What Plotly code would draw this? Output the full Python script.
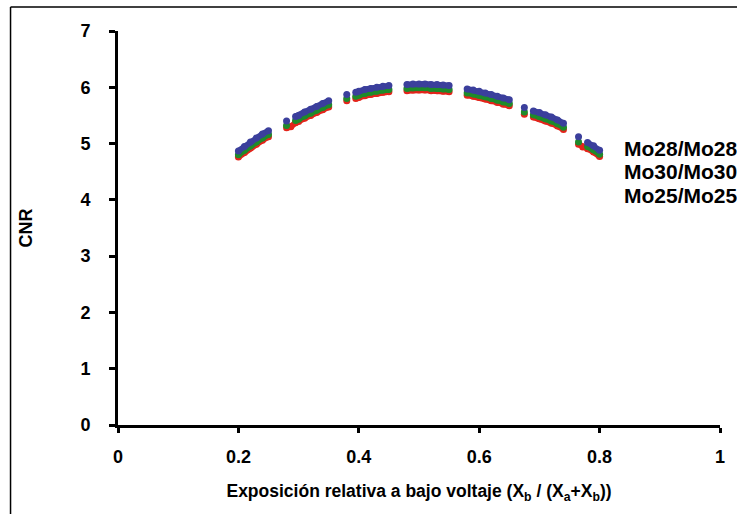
import plotly.graph_objects as go

# x positions (relative exposure at low voltage); None separates the visible runs of points
x_vals = [0.20, 0.21, 0.22, 0.23, 0.24, 0.25, None,
          0.28, None, 0.295, 0.30, 0.31, 0.32, 0.33, 0.34, 0.35, None,
          0.38, None, 0.395, 0.40, 0.41, 0.42, 0.43, 0.44, 0.45, None,
          0.48, 0.49, 0.50, 0.51, 0.52, 0.53, 0.54, 0.55, None,
          0.58, 0.59, 0.60, 0.61, 0.62, 0.63, 0.64, 0.65, None,
          0.675, None, 0.69, 0.70, 0.71, 0.72, 0.73, 0.74, None,
          0.765, None, 0.78, 0.79, 0.80]

cnr_mo28 = [4.87, 4.95, 5.03, 5.10, 5.17, 5.23, None,
            5.40, None, 5.48, 5.50, 5.56, 5.61, 5.66, 5.71, 5.76, None,
            5.87, None, 5.91, 5.93, 5.96, 5.98, 6.00, 6.02, 6.03, None,
            6.05, 6.06, 6.06, 6.06, 6.05, 6.05, 6.04, 6.03, None,
            5.97, 5.95, 5.93, 5.90, 5.87, 5.84, 5.81, 5.78, None,
            5.64, None, 5.58, 5.55, 5.51, 5.47, 5.42, 5.36, None,
            5.12, None, 5.02, 4.96, 4.88]

cnr_mo30 = [4.80, 4.88, 4.96, 5.03, 5.10, 5.16, None,
            5.32, None, 5.41, 5.43, 5.49, 5.54, 5.59, 5.64, 5.69, None,
            5.80, None, 5.84, 5.86, 5.89, 5.91, 5.93, 5.95, 5.96, None,
            5.98, 5.99, 5.99, 5.99, 5.98, 5.98, 5.97, 5.96, None,
            5.90, 5.88, 5.86, 5.83, 5.80, 5.77, 5.74, 5.71, None,
            5.56, None, 5.51, 5.48, 5.44, 5.40, 5.35, 5.29, None,
            5.03, None, 4.95, 4.89, 4.81]

cnr_mo25 = [4.76, 4.84, 4.92, 4.99, 5.06, 5.12, None,
            5.28, 5.30, 5.37, 5.39, 5.45, 5.50, 5.55, 5.60, 5.65, None,
            5.76, None, 5.80, 5.82, 5.85, 5.87, 5.89, 5.91, 5.92, None,
            5.94, 5.95, 5.95, 5.95, 5.94, 5.94, 5.93, 5.92, None,
            5.86, 5.84, 5.82, 5.79, 5.76, 5.73, 5.70, 5.67, None,
            5.52, None, 5.47, 5.44, 5.40, 5.36, 5.31, 5.25, None,
            4.99, 4.94, 4.91, 4.85, 4.77]

series_names = ["Mo28/Mo28", "Mo30/Mo30", "Mo25/Mo25"]
series_colors = ["#3b3f9c", "#1e8b2a", "#e3241b"]
x_ticks = [0, 0.2, 0.4, 0.6, 0.8, 1]
x_tick_text = ["0", "0.2", "0.4", "0.6", "0.8", "1"]
y_ticks = [0, 1, 2, 3, 4, 5, 6, 7]

font_family = "Liberation Sans, Arial, sans-serif"

# the red series has a point inside two gaps, so its x list differs slightly
x_vals_mo25 = list(x_vals)
x_vals_mo25[8] = 0.287
x_vals_mo25[55] = 0.772

fig = go.Figure()
for xs, ys, name, col in [(x_vals_mo25, cnr_mo25, series_names[2], series_colors[2]),
                          (x_vals, cnr_mo30, series_names[1], series_colors[1]),
                          (x_vals, cnr_mo28, series_names[0], series_colors[0])]:
    fig.add_trace(go.Scatter(x=xs, y=ys, mode="lines+markers", name=name,
                             connectgaps=False,
                             line=dict(color=col, width=6),
                             marker=dict(color=col, size=7, line=dict(width=0))))

plot_w = 605.0
plot_h = 394.0
for i, name in enumerate(series_names):
    py = 148 + i * 23.5
    fig.add_annotation(x=(625 - 118) / plot_w, y=1 - (py - 31) / plot_h,
                       xref="paper", yref="paper",
                       text=f"<b>{name}</b>", showarrow=False,
                       xanchor="left", yanchor="middle",
                       font=dict(family=font_family, size=21, color="black"))

fig.update_layout(
    width=737, height=514,
    margin=dict(l=118, r=14, t=31, b=89),
    paper_bgcolor="white", plot_bgcolor="white",
    showlegend=False,
    font=dict(family=font_family, color="black"),
    xaxis=dict(range=[0, 1], tickvals=x_ticks, ticktext=[f"<b>{t}</b>" for t in x_tick_text],
               showgrid=False, zeroline=False, showline=True, linecolor="black",
               linewidth=3, ticks="outside", ticklen=5, tickwidth=3, tickcolor="black",
               ticklabelstandoff=8,
               tickfont=dict(size=18, family=font_family, color="black"),
               title=dict(text="<b>Exposición relativa a bajo voltaje (X<sub>b</sub> / (X<sub>a</sub>+X<sub>b</sub>))</b>",
                          font=dict(size=17.5, family=font_family, color="black"), standoff=20)),
    yaxis=dict(range=[0, 7], tickvals=y_ticks, ticktext=[f"<b>{t}</b>" for t in y_ticks],
               showgrid=False, zeroline=False, showline=True, linecolor="black",
               linewidth=3, ticks="outside", ticklen=6, tickwidth=3, tickcolor="black",
               ticklabelstandoff=15,
               tickfont=dict(size=18, family=font_family, color="black"),
               title=dict(text="<b>CNR</b>", font=dict(size=18, family=font_family, color="black"),
                          standoff=44)),
    shapes=[dict(type="line", xref="paper", yref="paper",
                 x0=(10 - 118) / plot_w, x1=(10 - 118) / plot_w,
                 y0=-1.0, y1=1 + (31 - 7) / plot_h,
                 line=dict(color="black", width=1.5), layer="below"),
            dict(type="line", xref="paper", yref="paper",
                 x0=(10 - 118) / plot_w, x1=1.5,
                 y0=1 + (31 - 7) / plot_h, y1=1 + (31 - 7) / plot_h,
                 line=dict(color="black", width=1.5), layer="below")],
)

fig.write_html("out.html")
